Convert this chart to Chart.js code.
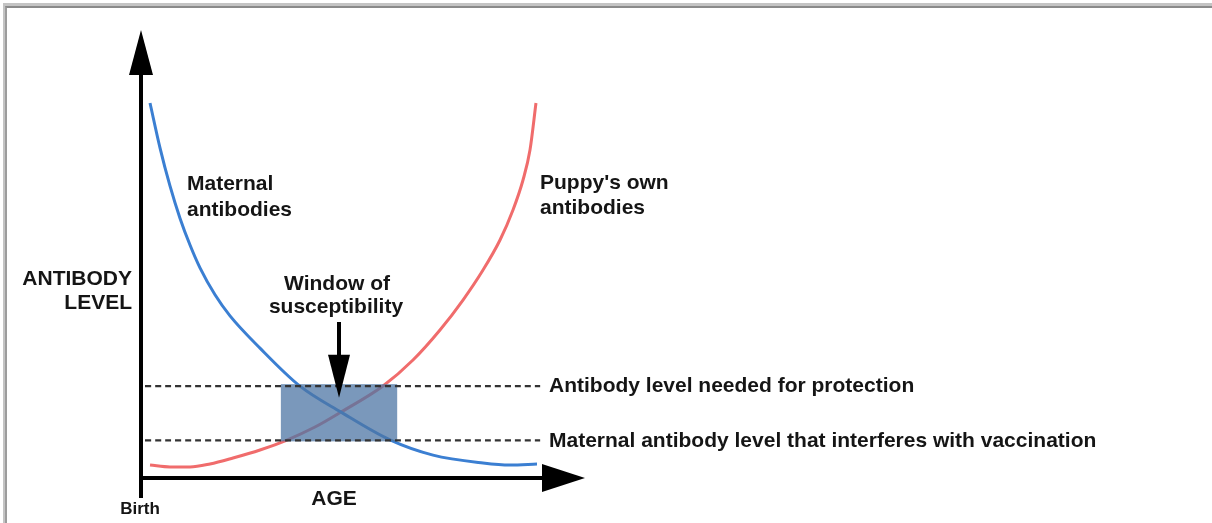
<!DOCTYPE html>
<html><head><meta charset="utf-8">
<script src="https://cdn.jsdelivr.net/npm/chart.js@4"></script>
<style>
html,body{margin:0;padding:0;background:#fff;width:1212px;height:523px;overflow:hidden;}
#frame{position:absolute;left:3px;top:3px;width:1300px;height:600px;border-top:3px solid #c4c4c4;border-left:2px solid #c4c4c4;}
#frame2{position:absolute;left:5px;top:6px;width:1300px;height:600px;border-top:2px solid #8a8a8a;border-left:2px solid #9c9c9c;}
canvas{position:absolute;left:0;top:0;}
</style></head><body>
<div id="frame"></div><div id="frame2"></div>
<canvas id="c" width="1212" height="523"></canvas>
<script>
// ---- data (age units 0..100, antibody level units 0..100) ----
const maternalAge   = [2.03, 4.28, 6.53, 8.78, 11.04, 13.29, 16.67, 20.05, 26.80, 35.81, 45.05, 56.08, 65.77, 77.03, 83.11, 89.19];
const maternalLevel = [83.7, 73.7, 65.2, 58.0, 52.0, 46.9, 40.9, 36.2, 29.0, 20.5, 14.7, 8.5, 5.1, 3.35, 2.9, 3.1];
const puppyAge      = [2.03, 6.53, 11.04, 15.54, 20.72, 26.80, 32.88, 39.19, 45.05, 54.50, 61.26, 67.34, 72.52, 77.03, 80.86, 83.78, 86.04, 87.61, 88.96];
const puppyLevel    = [2.9, 2.46, 2.46, 3.13, 4.46, 6.25, 8.48, 11.38, 14.73, 20.54, 26.34, 33.04, 39.73, 46.43, 53.13, 59.82, 66.52, 73.21, 83.71];
const thresholdLevels = [20.5, 8.4];
const thresholdLabels = ["Antibody level needed for protection", "Maternal antibody level that interferes with vaccination"];
const thresholdAgeRange = [0.9, 89.9];
const windowAgeRange = [31.5, 57.7];
const seriesLabels = [["Maternal", "antibodies"], ["Puppy's own", "antibodies"]];
const windowLabel = ["Window of", "susceptibility"];
const yTitle = ["ANTIBODY", "LEVEL"];
const xTitle = "AGE";
const originLabel = "Birth";

const pts = (xs, ys) => xs.map((x, i) => ({x, y: ys[i]}));
const FONT = 'bold 21px "Liberation Sans", Arial, sans-serif';
const TXT = '#151515';

const datasets = [
  {label: 'Maternal antibodies', data: pts(maternalAge, maternalLevel), borderColor: '#3b7fd2', borderWidth: 3,
   cubicInterpolationMode: 'monotone', pointRadius: 0, order: 3, fill: false},
  {label: "Puppy's own antibodies", data: pts(puppyAge, puppyLevel), borderColor: '#f06c6c', borderWidth: 3,
   cubicInterpolationMode: 'monotone', pointRadius: 0, order: 3, fill: false}
];
thresholdLevels.forEach((lv, i) => datasets.push({
  label: thresholdLabels[i], isThreshold: true,
  data: thresholdAgeRange.map(a => ({x: a, y: lv})), borderColor: '#333', borderWidth: 2.2,
  borderDash: [6, 4], pointRadius: 0, order: 1, fill: false
}));

let rectDrawn = false;
const deco = {
  id: 'deco',
  beforeDatasetsDraw() { rectDrawn = false; },
  beforeDatasetDraw(chart, args) {
    const ds = chart.data.datasets[args.index];
    if (ds.isThreshold && !rectDrawn) {
      rectDrawn = true;
      const x = chart.scales.x, y = chart.scales.y, c = chart.ctx;
      const x0 = x.getPixelForValue(windowAgeRange[0]), x1 = x.getPixelForValue(windowAgeRange[1]);
      const y0 = y.getPixelForValue(thresholdLevels[0]) - 2, y1 = y.getPixelForValue(thresholdLevels[1]) + 1;
      c.save(); c.fillStyle = 'rgba(78,118,164,0.75)'; c.fillRect(x0, y0, x1 - x0, y1 - y0); c.restore();
    }
  },
  afterDraw(chart) {
    const x = chart.scales.x, y = chart.scales.y, c = chart.ctx;
    const ox = x.getPixelForValue(0), oy = y.getPixelForValue(0);
    const xt = x.getPixelForValue(100), yt = y.getPixelForValue(100);
    c.save();
    c.fillStyle = '#000'; c.strokeStyle = '#000'; c.lineWidth = 4; c.lineCap = 'butt';
    // y axis
    c.beginPath(); c.moveTo(ox, oy + 20); c.lineTo(ox, yt + 44); c.stroke();
    c.beginPath(); c.moveTo(ox, yt); c.lineTo(ox - 12, yt + 45); c.lineTo(ox + 12, yt + 45); c.closePath(); c.fill();
    // x axis
    c.beginPath(); c.moveTo(ox - 2, oy); c.lineTo(xt - 42, oy); c.stroke();
    c.beginPath(); c.moveTo(xt, oy); c.lineTo(xt - 43, oy - 14); c.lineTo(xt - 43, oy + 14); c.closePath(); c.fill();
    // window arrow
    const ax = (x.getPixelForValue(windowAgeRange[0]) + x.getPixelForValue(windowAgeRange[1])) / 2;
    const tip = y.getPixelForValue(17.9);
    c.beginPath(); c.moveTo(ax, 322); c.lineTo(ax, tip - 40); c.stroke();
    c.beginPath(); c.moveTo(ax, tip); c.lineTo(ax - 11, tip - 43); c.lineTo(ax + 11, tip - 43); c.closePath(); c.fill();

    // text
    c.fillStyle = TXT; c.font = FONT; c.textBaseline = 'alphabetic';
    c.textAlign = 'right';
    c.fillText(yTitle[0], 132, 285); c.fillText(yTitle[1], 132, 309);
    c.textAlign = 'left';
    c.fillText(seriesLabels[0][0], 187, 190); c.fillText(seriesLabels[0][1], 187, 216);
    c.fillText(seriesLabels[1][0], 540, 189); c.fillText(seriesLabels[1][1], 540, 214);
    c.textAlign = 'center';
    c.fillText(windowLabel[0], ax - 2, 290); c.fillText(windowLabel[1], ax - 3, 313);
    c.fillText(xTitle, 334, 505);
    c.font = 'bold 17px "Liberation Sans", Arial, sans-serif';
    c.fillText(originLabel, 140, 514);
    c.font = FONT; c.textAlign = 'left'; c.textBaseline = 'middle';
    thresholdLevels.forEach((lv, i) => c.fillText(thresholdLabels[i], 549, y.getPixelForValue(lv) + 0.5));
    c.restore();
  }
};

new Chart(document.getElementById('c'), {
  type: 'line',
  data: {datasets},
  options: {
    responsive: false, animation: false, events: [],
    layout: {padding: {left: 141, right: 627, top: 30, bottom: 45}},
    scales: {
      x: {type: 'linear', min: 0, max: 100, display: false},
      y: {type: 'linear', min: 0, max: 100, display: false}
    },
    plugins: {legend: {display: false}, tooltip: {enabled: false}},
    elements: {line: {tension: 0.4}}
  },
  plugins: [deco]
});
</script>
</body></html>
